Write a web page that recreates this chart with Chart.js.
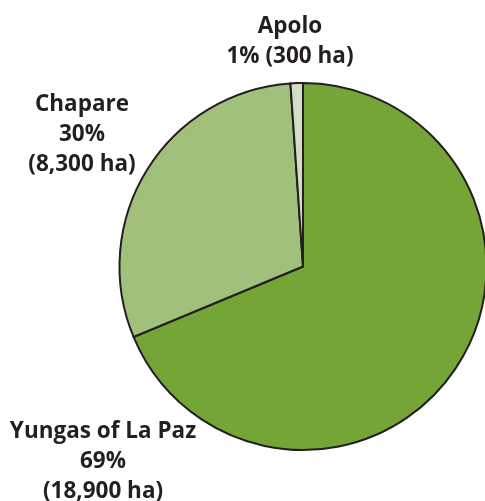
<!DOCTYPE html>
<html>
<head>
<meta charset="utf-8">
<script src="https://cdn.jsdelivr.net/npm/chart.js@4/dist/chart.umd.min.js"></script>
<style>
  html, body { margin: 0; padding: 0; background: #ffffff; overflow: hidden; }
  #wrap { position: relative; width: 606px; height: 501px; }
</style>
</head>
<body>
<div id="wrap"><canvas id="c"></canvas></div>
<script>
const categories = ['Yungas of La Paz', 'Chapare', 'Apolo'];
const hectares = [18900, 8300, 300];
const percentLabels = ['69%', '30%', '1%'];
const areaLabels = ['(18,900 ha)', '(8,300 ha)', '(300 ha)'];

const colors = ['#74a536', '#a1c07b', '#d3dcc6'];

// label anchor placement (text layout only)
const labelLayout = [
  { x: 103, y: 438, lines: [categories[0], percentLabels[0], areaLabels[0]] },
  { x: 82,  y: 111, lines: [categories[1], percentLabels[1], areaLabels[1]] },
  { x: 290, y: 33,  lines: [categories[2], percentLabels[2] + ' ' + areaLabels[2]] }
];

const labelPlugin = {
  id: 'sliceLabels',
  afterDraw(chart) {
    const ctx = chart.ctx;
    ctx.save();
    ctx.fillStyle = '#231f20';
    ctx.font = 'bold 22.5px "Open Sans", "DejaVu Sans", sans-serif';
    ctx.textAlign = 'center';
    ctx.textBaseline = 'alphabetic';
    labelLayout.forEach(l => {
      l.lines.forEach((t, i) => ctx.fillText(t, l.x, l.y + i * 30));
    });
    ctx.restore();
  }
};

new Chart(document.getElementById('c'), {
  type: 'pie',
  data: {
    labels: categories,
    datasets: [{
      data: hectares,
      backgroundColor: colors,
      borderColor: '#231f20',
      borderWidth: 2,
      borderJoinStyle: 'miter'
    }]
  },
  options: {
    responsive: true,
    maintainAspectRatio: false,
    animation: false,
    rotation: 0,
    layout: { padding: { top: 82, bottom: 50, left: 0, right: 0 } },
    plugins: { legend: { display: false }, tooltip: { enabled: false } }
  },
  plugins: [labelPlugin]
});
</script>
</body>
</html>
